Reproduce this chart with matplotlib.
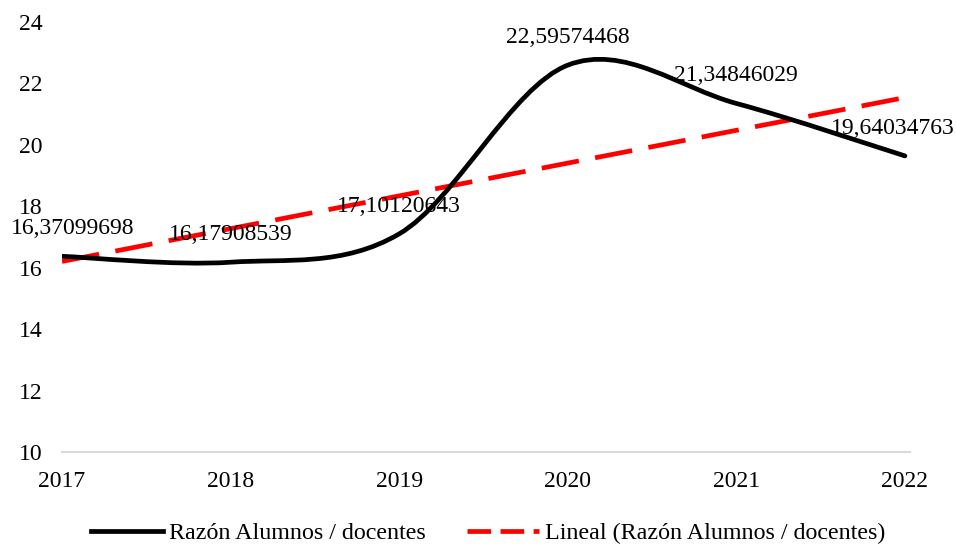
import numpy as np
import matplotlib.pyplot as plt
from matplotlib.path import Path
from matplotlib.patches import PathPatch
from matplotlib.lines import Line2D

plt.rcParams['font.family'] = ['Liberation Serif', 'DejaVu Serif']

years = [2017, 2018, 2019, 2020, 2021, 2022]
ratio = [16.37099698, 16.17908539, 17.10120643, 22.59574468, 21.34846029, 19.64034763]
labels = ['16,37099698', '16,17908539', '17,10120643', '22,59574468', '21,34846029', '19,64034763']

x = np.array(years, dtype=float)
y = np.array(ratio)

fs = 17

fig = plt.figure(figsize=(9.56, 5.45), dpi=100)
ax = fig.add_axes([62 / 956, 1 - 452 / 545, 848 / 956, 430 / 545])

# smoothed line: cubic Bezier segments with Catmull-Rom style control points
verts = [(x[0], y[0])]
codes = [Path.MOVETO]
n = len(x)
for i in range(n - 1):
    p0 = np.array([x[max(i - 1, 0)], y[max(i - 1, 0)]])
    p1 = np.array([x[i], y[i]])
    p2 = np.array([x[i + 1], y[i + 1]])
    p3 = np.array([x[min(i + 2, n - 1)], y[min(i + 2, n - 1)]])
    c1 = p1 + (p2 - p0) / 6
    c2 = p2 - (p3 - p1) / 6
    verts += [tuple(c1), tuple(c2), tuple(p2)]
    codes += [Path.CURVE4] * 3
ax.add_patch(PathPatch(Path(verts, codes), fill=False, edgecolor='black',
                       linewidth=3.4, capstyle='round', joinstyle='round', zorder=3))

# linear trendline
slope, intercept = np.polyfit(x, y, 1)
ax.plot(x, slope * x + intercept, color='#ff0000', linewidth=3.4,
        dashes=(8, 3.5), zorder=2)

# data labels above each point
shifts = [8, 0, 0, 0, 0, -9]
for xi, yi, lab, dx in zip(x, y, labels, shifts):
    ax.annotate(lab, (xi, yi), xytext=(dx, 20), textcoords='offset points',
                ha='center', va='center', fontsize=fs, zorder=4,
                annotation_clip=False)

ax.set_xlim(2017, 2022.03)
ax.set_ylim(10, 24)
ax.set_yticks(range(10, 25, 2))
ax.set_xticks(years)
ax.tick_params(length=0, labelsize=fs)
ax.tick_params(axis='y', pad=14)
ax.tick_params(axis='x', pad=14)
for side in ['top', 'right', 'left']:
    ax.spines[side].set_visible(False)
ax.spines['bottom'].set_color('#d9d9d9')
ax.spines['bottom'].set_linewidth(1.5)

handles = [Line2D([], [], color='black', linewidth=3.4),
           Line2D([], [], color='#ff0000', linewidth=3.4, dashes=(5, 2))]
fig.legend(handles, ['Razón Alumnos / docentes', 'Lineal (Razón Alumnos / docentes)'],
           loc='center', bbox_to_anchor=(488 / 956, 1 - 533 / 545), ncol=2, frameon=False,
           fontsize=17.3, handlelength=3.0, handletextpad=0.25, columnspacing=1.7)

fig.savefig('out.png', dpi=100)
